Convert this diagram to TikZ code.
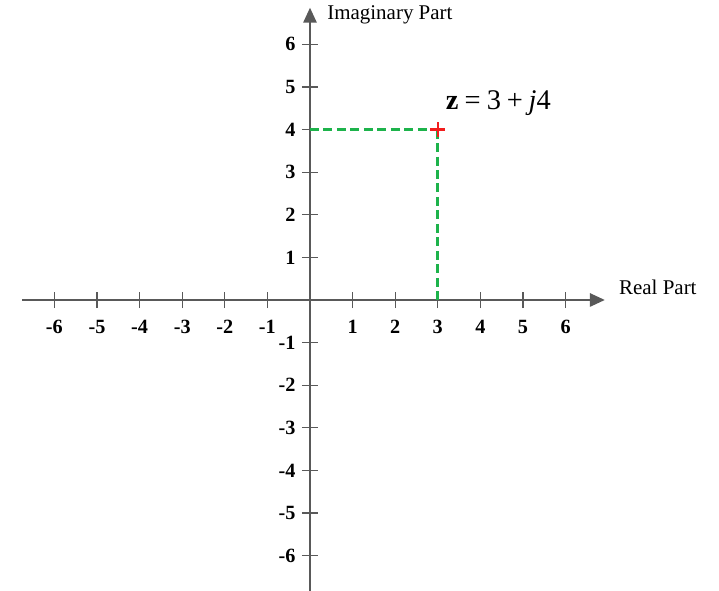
\documentclass[tikz,border=0pt]{standalone}
\usepackage{fontspec}
\setmainfont{Liberation Serif}
\usepackage{xcolor}
\usepackage{tikz}
\usetikzlibrary{positioning, arrows.meta}
\definecolor{axisgray}{HTML}{595959}
\definecolor{dashgreen}{HTML}{1DB34B}
\definecolor{markred}{HTML}{F21D1D}

\begin{document}
\begin{tikzpicture}[font=\fontsize{14}{16}\selectfont,
    axis/.style={axisgray, line width=1pt, -{Triangle[length=10pt,width=9pt]}},
    tick/.style={axisgray, line width=0.8pt},
    ticklabel/.style={font=\fontsize{13.5}{15}\selectfont\bfseries, inner sep=1pt},
    guide/.style={dashgreen, line width=2pt, dash pattern=on 6pt off 3pt}]
  \useasboundingbox (-7.277,-6.831) rectangle (9.601,7.042);
  \coordinate (xstart) at (-6.76,0);
  \coordinate (xend) at (6.92,0);
  \coordinate (ystart) at (0,-6.85);
  \coordinate (yend) at (0,6.86);
  \coordinate (z) at (3,4);
  \coordinate (zre) at (3,0);
  \coordinate (zim) at (0,4);
  % axes
  \draw[axis] (xstart) -- (xend);
  \draw[axis] (ystart) -- (yend);
  \node[anchor=west, inner sep=0pt] (realpart) at (7.25,0.3) {Real Part};
  \node[anchor=west, inner sep=0pt] (imagpart) at (0.4,6.7) {Imaginary Part};
  % ticks
  \foreach \i in {-6,...,-1,1,2,...,6} {
    \draw[tick] (\i,-0.19) -- (\i,0.19);
    \draw[tick] (-0.19,\i) -- (0.19,\i);
    \node[ticklabel] (xl\i) at (\i,-0.64) {\i};
    \node[ticklabel, anchor=east] (yl\i) at (-0.3,\i) {\i};
  }
  % the point z
  \draw[guide] (zim) -- (z);
  \draw[guide] (z) -- (zre);
  \draw[markred, line width=1.7pt] ([xshift=-0.18cm]z) -- ([xshift=0.18cm]z)
    ([yshift=-0.18cm]z) -- ([yshift=0.18cm]z);
  \node[font=\fontsize{19}{21}\selectfont] (zlabel) at (4.42,4.62)
    {\textbf{z}\hspace{0.22em}=\hspace{0.22em}3\hspace{0.2em}+\hspace{0.2em}\textit{j}4};
\end{tikzpicture}
\end{document}
